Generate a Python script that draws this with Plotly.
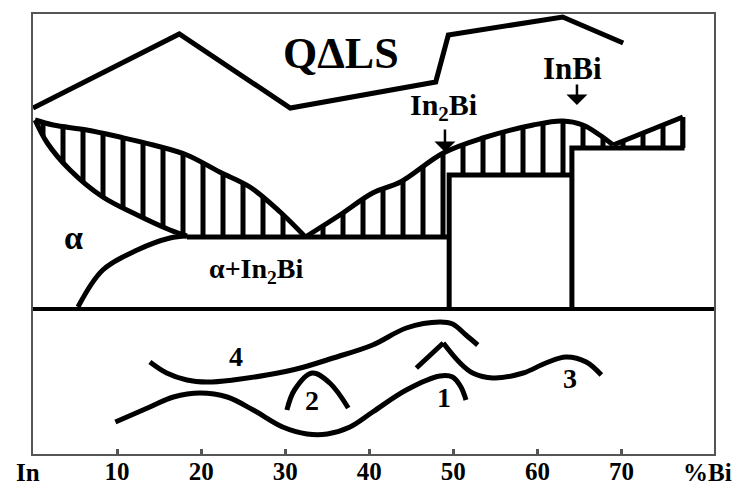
import plotly.graph_objects as go

# ---------------- data (x in % Bi, y in arbitrary diagram units) ----------------
qals_x = [0, 17.4, 30.6, 47.9, 49.4, 63.0, 70.2]
qals_y = [346, 420, 346, 372, 419, 437, 411]

liq_left_x = [0.24, 2.4, 6.4, 10.3, 14.3, 18.3, 22.2, 25.8, 29.4, 32.4]
liq_left_y = [334, 329, 324, 317, 309, 299, 282, 267, 242, 217]

sol_left_x = [0.24, 1.7, 4.4, 8.3, 12.4, 16.3, 18.3]
sol_left_y = [334, 311, 284, 257, 239, 224, 218]

solvus_x = [5.35, 8.3, 12.4, 16.3, 18.3]
solvus_y = [147, 184, 204, 216, 218]

liq_right_x = [32.4, 36.5, 40.4, 43.7, 48.8, 53.5, 59.5, 63.0, 65.4, 67.4, 69.0]
liq_right_y = [217, 239, 261, 272, 301, 316, 329, 333, 329, 319, 309]

liq_tail_x = [69.0, 77.3]
liq_tail_y = [309, 337]

eutectic_x = [18.3, 49.5]
eutectic_y = [217, 217]

in2bi_x = [49.5, 49.5, 64.1]
in2bi_y = [145, 279, 279]

inbi_x = [64.1, 64.1, 77.5]
inbi_y = [145, 306, 306]

end_x = [77.3, 77.3]
end_y = [306, 337]

base_x = [0, 81]
base_y = [145, 145]

curve1_x = [9.8, 13.9, 16.7, 19.9, 23.1, 26.2, 29.7, 32.6, 35.0, 37.7, 40.4, 44.4, 48.4, 49.9, 50.9, 51.5]
curve1_y = [32, 47, 57, 61, 57, 44, 27, 20, 20, 27, 42, 64, 78, 77, 67, 54]

curve2_x = [30.2, 31.1, 33.2, 35.3, 37.5]
curve2_y = [44, 64, 81, 71, 46]

curve3_x = [45.6, 48.8, 50.8, 52.3, 54.7, 58.3, 61.0, 63.4, 65.8, 67.6]
curve3_y = [86, 111, 91, 81, 76, 81, 91, 97, 92, 79]

curve4_x = [13.9, 15.9, 18.3, 20.7, 23.8, 27.8, 31.8, 35.7, 40.4, 44.4, 48.4, 49.9, 51.5, 52.9]
curve4_y = [92, 81, 74, 72, 74, 79, 86, 96, 109, 126, 132, 130, 119, 109]

tick_vals = [10, 20, 30, 40, 50, 60, 70]
tick_text = ["10", "20", "30", "40", "50", "60", "70"]

FONT = "Liberation Serif, serif"
LW = 5

fig = go.Figure()

hatch = dict(shape="|", size=20, solidity=0.25, fgcolor="black", bgcolor="white", fillmode="replace")

# hatched two-phase regions (L + solid)
lens_x = liq_left_x + [eutectic_x[0]] + sol_left_x[::-1]
lens_y = liq_left_y + [eutectic_y[0]] + sol_left_y[::-1]
fig.add_trace(go.Scatter(x=lens_x, y=lens_y, mode="lines", fill="toself",
                         fillcolor="white", fillpattern=hatch, line=dict(width=0),
                         hoverinfo="skip", showlegend=False))

right_x = liq_right_x + liq_tail_x[1:] + [end_x[0], inbi_x[1], in2bi_x[2], in2bi_x[1], in2bi_x[0]]
right_y = liq_right_y + liq_tail_y[1:] + [inbi_y[2], inbi_y[1], in2bi_y[2], in2bi_y[1], eutectic_y[1]]
fig.add_trace(go.Scatter(x=right_x, y=right_y, mode="lines", fill="toself",
                         fillcolor="white", fillpattern=hatch, line=dict(width=0),
                         hoverinfo="skip", showlegend=False))


def line(x, y, shape="linear", width=LW, smoothing=1.0):
    fig.add_trace(go.Scatter(x=x, y=y, mode="lines",
                             line=dict(color="black", width=width, shape=shape, smoothing=smoothing),
                             hoverinfo="skip", showlegend=False))


line(qals_x, qals_y)
line(liq_left_x, liq_left_y, "spline")
line(sol_left_x, sol_left_y, "spline")
line(solvus_x, solvus_y, "spline")
line(liq_right_x, liq_right_y, "spline")
line(liq_tail_x, liq_tail_y)
line(eutectic_x, eutectic_y)
line(in2bi_x, in2bi_y)
line(inbi_x, inbi_y)
line(end_x, end_y)
line(base_x, base_y, width=4)
line(curve1_x, curve1_y, "spline")
line(curve2_x, curve2_y, "spline")
line(curve3_x[:2], curve3_y[:2])
line(curve3_x[1:], curve3_y[1:], "spline")
line(curve4_x, curve4_y, "spline")


def label(text, x, y, size, xref="x", yref="y"):
    fig.add_annotation(x=x, y=y, xref=xref, yref=yref, text=text, showarrow=False,
                       font=dict(size=size, family=FONT, color="black", weight="bold"),
                       xanchor="center", yanchor="middle", borderpad=0)


label("QΔLS", 36.6, 401, 44)
label("In<sub>2</sub>Bi", 48.8, 347, 30)
label("InBi", 64.2, 386, 31)
label("α", 4.8, 217, 34)
label("α+In<sub>2</sub>Bi", 26.6, 184, 28)
label("4", 24.1, 98, 28)
label("2", 33.2, 54, 28)
label("1", 48.9, 57, 28)
label("3", 63.9, 76, 28)
label("In", -0.008, -0.041, 25, xref="paper", yref="paper")
label("%Bi", 0.99, -0.041, 25, xref="paper", yref="paper")

for ax_x, y_tail, y_head in [(49.0, 326, 302), (64.7, 371, 349)]:
    fig.add_annotation(x=ax_x, y=y_head, ax=ax_x, ay=y_tail, xref="x", yref="y",
                       axref="x", ayref="y", text="", showarrow=True,
                       arrowhead=1, arrowsize=1.4, arrowwidth=2.5, arrowcolor="black")

fig.update_xaxes(range=[0, 81], showgrid=False, zeroline=False, showline=True, mirror=True,
                 linecolor="#555", linewidth=2, ticks="inside", ticklen=5, tickwidth=3,
                 tickcolor="#555", tickvals=tick_vals, ticktext=tick_text, ticklabelstandoff=-6,
                 tickfont=dict(size=25, family=FONT, color="black", weight="bold"), automargin=False)
fig.update_yaxes(range=[0, 440], showgrid=False, zeroline=False, showline=True, mirror=True,
                 linecolor="#555", linewidth=2, showticklabels=False, ticks="", automargin=False)

# the page body adds an 8px offset, so the figure is sized/margined to compensate
fig.update_layout(width=738, height=481, margin=dict(l=25, r=32, t=6, b=35, autoexpand=False),
                  plot_bgcolor="white", paper_bgcolor="white", showlegend=False)

fig.write_html("out.html")
